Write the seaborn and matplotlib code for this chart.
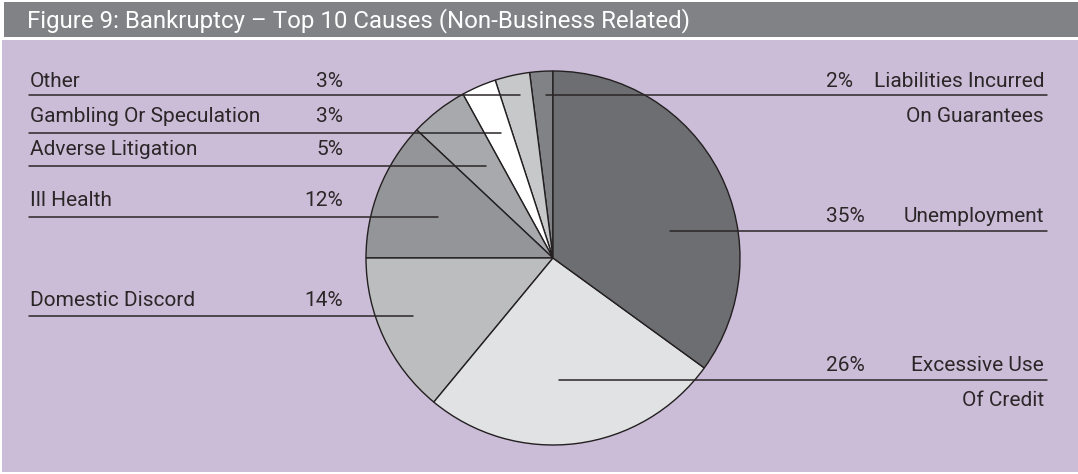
import matplotlib
matplotlib.use("Agg")
import matplotlib.pyplot as plt
import seaborn as sns
from matplotlib.patches import Rectangle

# Data: slices listed counter-clockwise from 12 o'clock
causes = ["Liabilities Incurred\nOn Guarantees", "Other", "Gambling Or Speculation",
          "Adverse Litigation", "Ill Health", "Domestic Discord",
          "Excessive Use\nOf Credit", "Unemployment"]
shares = [2, 3, 3, 5, 12, 14, 26, 35]
slice_colors = ["#808285", "#c7c8ca", "#ffffff", "#a7a9ac",
                "#939598", "#bcbdbf", "#e1e2e4", "#6d6e71"]

title = "Figure 9: Bankruptcy \u2013 Top 10 Causes (Non-Business Related)"

# label layout in pixels (y measured from top): side, text baseline, rule y, inner end of rule
label_side = ["R", "L", "L", "L", "L", "L", "R", "R"]
label_base = [87, 87, 122, 155, 206, 306, 371, 222]
rule_y = [95, 95, 133, 166, 217, 316, 380, 231]
rule_inner_x = [546, 520, 501, 486, 438, 413, 559, 670]

W, H = 1078, 474
BG = "#cbbdd7"
INK = "#2b2627"
FS = 15

sns.set_theme(style="white")
plt.rcParams["font.family"] = ["Roboto", "DejaVu Sans"]

fig = plt.figure(figsize=(W / 100, H / 100), dpi=100)
ax = fig.add_axes([0, 0, 1, 1])


def Y(y):
    return H - y


# background panel and title bar
ax.add_patch(Rectangle((2, Y(472)), W - 2, 432, facecolor=BG, edgecolor="none", zorder=0))
ax.add_patch(Rectangle((4, Y(37)), W - 4, 35, facecolor="#808285", edgecolor="none", zorder=0))
ax.text(27, Y(27), title, color="white", fontsize=17.3, va="baseline", ha="left")

cx, cy, r = 553, 258, 187
ax.pie(shares, colors=slice_colors, startangle=90, counterclock=True,
       center=(cx, Y(cy)), radius=r,
       wedgeprops=dict(edgecolor="#231f20", linewidth=1.0))

pct = [f"{v}%" for v in shares]
for name, p, side, tb, ry, ix in zip(causes, pct, label_side, label_base, rule_y, rule_inner_x):
    lines = name.split("\n")
    if side == "L":
        ax.plot([29, ix], [Y(ry), Y(ry)], color=INK, lw=1.1, zorder=5)
        ax.text(30, Y(tb), lines[0], color=INK, fontsize=FS, ha="left", va="baseline")
        ax.text(343, Y(tb), p, color=INK, fontsize=FS, ha="right", va="baseline")
    else:
        ax.plot([ix, 1047], [Y(ry), Y(ry)], color=INK, lw=1.1, zorder=5)
        ax.text(826, Y(tb), p, color=INK, fontsize=FS, ha="left", va="baseline")
        ax.text(1044, Y(tb), lines[0], color=INK, fontsize=FS, ha="right", va="baseline")
        if len(lines) > 1:
            ax.text(1044, Y(tb + 35), lines[1], color=INK, fontsize=FS, ha="right", va="baseline")

ax.set_xlim(0, W)
ax.set_ylim(0, H)
ax.set_aspect("auto")
ax.axis("off")

fig.savefig("out.png", dpi=100, facecolor="white")
